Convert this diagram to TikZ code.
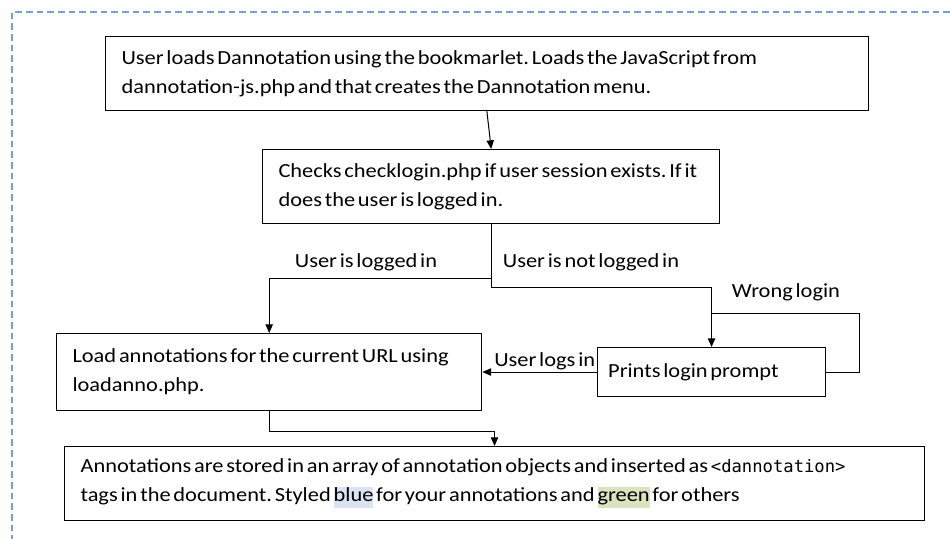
\documentclass[tikz,border=0pt]{standalone}
\usepackage{fontspec}
\setmainfont{Carlito}[FakeStretch=1.12,WordSpace=0.55]
\newfontfamily\codefont{DejaVu Sans Mono}[Scale=0.86]
\usetikzlibrary{arrows.meta,positioning,calc}
\definecolor{framecol}{RGB}{111,160,214}
\definecolor{hiblue}{RGB}{218,227,243}
\definecolor{higreen}{RGB}{215,228,189}
\newcommand{\hilite}[2]{{\setlength{\fboxsep}{0pt}\colorbox{#1}{\rule[-4.5pt]{0pt}{16pt}#2}}}
\frenchspacing

\begin{document}
\begin{tikzpicture}[x=0.75pt,y=-0.75pt,
    every node/.style={font=\fontsize{15}{21.75}\selectfont},
    procbox/.style={draw,line width=0.8pt,anchor=north west,align=left,
      inner xsep=12pt,inner ysep=0pt,
      execute at begin node={\spaceskip=0pt\xspaceskip=0pt\relax}},
    flow/.style={line width=0.75pt,-{Triangle[length=6.5pt,width=5.5pt]}},
    lbl/.style={inner sep=1pt}]
    \useasboundingbox[fill=white] (0,0) rectangle (950,539);
    % dashed frame
    \draw[framecol,line width=0.8pt,dash pattern=on 5pt off 3pt]
        (950,12) -- (12,12) -- (12,539);
    % boxes
    \node[procbox,text width=548pt,minimum height=55.5pt] (load) at (105,36)
        {User loads Dannotation using the bookmarlet. Loads the JavaScript from\\
         dannotation-js.php and that creates the Dannotation menu.};
    \node[procbox,text width=319pt,minimum height=55.5pt] (checklogin) at (262,149)
        {Checks checklogin.php if user session exists. If it\\
         does the user is logged in.};
    \node[procbox,text width=295pt,minimum height=57.75pt] (loadanno) at (56,333)
        {Load annotations for the current URL using\\
         loadanno.php.};
    \node[procbox,inner xsep=8pt,text width=155pt,minimum height=36.75pt] (prompt) at (597,347)
        {Prints login prompt};
    \node[procbox,text width=621pt,minimum height=55.5pt] (store) at (64,446)
        {Annotations are stored in an array of annotation objects and inserted as {\codefont<dannotation>}\\
         tags in the document. Styled \hilite{hiblue}{blue} for your annotations and \hilite{higreen}{green} for others};
    % connectors
    \draw[flow] (load.south) -- (checklogin.north);
    \coordinate (forkleft) at ($(checklogin.south)+(0,54)$);
    \coordinate (forkright) at ($(checklogin.south)+(0,63)$);
    \draw[flow] (checklogin.south) -- (forkright) -| (prompt.north);
    \draw[flow] (forkleft) -| (loadanno.north);
    \coordinate (loopjoin) at ($(prompt.north)+(0,-34)$);
    \draw[line width=0.75pt] (prompt.east) -- ++(33,0) |- (loopjoin);
    \draw[flow] (prompt.west) -- (loadanno.east |- prompt.west)
        node[lbl,pos=0,anchor=south east] {User logs in};
    \draw[flow] (loadanno.south) -- ++(0,20) -| (store.north);
    % labels
    \node[lbl] (lblin) at (366,262) {User is logged in};
    \node[lbl] (lblout) at (591,262) {User is not logged in};
    \node[lbl] (lblwrong) at (786,292) {Wrong login};
\end{tikzpicture}
\end{document}
